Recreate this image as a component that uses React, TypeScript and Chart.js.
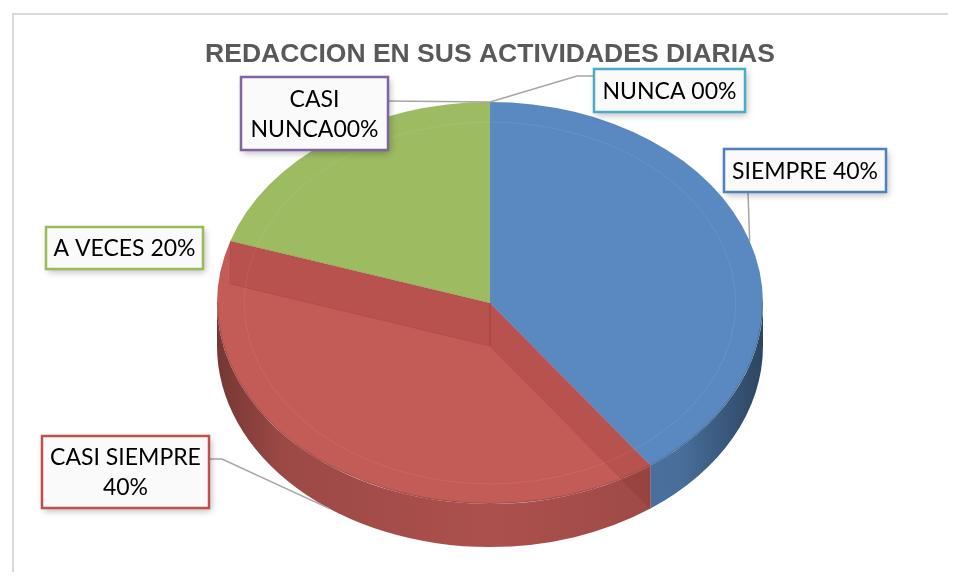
import React, { useEffect, useRef } from "react";
import { Chart, registerables } from "chart.js";

Chart.register(...registerables);

// ---------- data ----------
const chartTitle = "REDACCION EN SUS ACTIVIDADES DIARIAS";
const categories = ["SIEMPRE", "CASI SIEMPRE", "A VECES", "CASI NUNCA", "NUNCA"];
const percentValues = [40, 40, 20, 0, 0];
const labelLines = [
  ["SIEMPRE 40%"],
  ["CASI SIEMPRE", "40%"],
  ["A VECES 20%"],
  ["CASI", "NUNCA00%"],
  ["NUNCA 00%"],
];

// ---------- style ----------
const sliceColors = ["#5A89C1", "#C35B57", "#9DBB61", "#8064A2", "#4BACC6"];
const boxBorderColors = ["#4F81BD", "#C0504D", "#9BBB59", "#8064A2", "#4BACC6"];
const Y_SCALE = 201 / 273;
const DEPTH = 43;
// box placement relative to the pie centre (layout only)
const boxLayout = [
  { dx: 234, dy: -154, w: 162, h: 43, attach: "bottom", ax: 24, ay: 0, elbow: 0 },
  { dx: -448, dy: 133, w: 167, h: 72, attach: "right", ax: 0, ay: 23, elbow: 13 },
  { dx: -444, dy: -76, w: 157, h: 42, attach: "none", ax: 0, ay: 0, elbow: 0 },
  { dx: -249, dy: -226, w: 147, h: 73, attach: "right", ax: 0, ay: 24, elbow: 0 },
  { dx: 104, dy: -234, w: 151, h: 43, attach: "left", ax: 0, ay: 7, elbow: 17 },
];

function rgbOf(hex: string) {
  const n = parseInt(hex.slice(1), 16);
  return [(n >> 16) & 255, (n >> 8) & 255, n & 255];
}
function shade(hex: string, f: number, a = 1) {
  const [r, g, b] = rgbOf(hex);
  return `rgba(${Math.round(r * f)},${Math.round(g * f)},${Math.round(b * f)},${a})`;
}

const pie3d = {
  id: "pie3d",
  _saved: false,
  beforeDraw(chart: any) {
    const ctx = chart.ctx;
    ctx.save();
    ctx.strokeStyle = "#D9D9D9";
    ctx.lineWidth = 2;
    ctx.beginPath();
    ctx.moveTo(5, chart.height + 10);
    ctx.lineTo(5, 6);
    ctx.lineTo(chart.width + 10, 6);
    ctx.stroke();
    ctx.restore();
  },
  beforeDatasetsDraw(chart: any) {
    const ctx = chart.ctx;
    const els = chart.getDatasetMeta(0).data as any[];
    if (!els.length) return;
    const cx = els[0].x, cy = els[0].y, r = els[0].outerRadius;
    const ry = r * Y_SCALE, d = DEPTH;
    ctx.save();
    els.forEach((el: any, i: number) => {
      const lo = Math.max(el.startAngle, 0);
      const hi = Math.min(el.endAngle, Math.PI);
      if (hi <= lo) return;
      const base = sliceColors[i];
      const g = ctx.createLinearGradient(cx - r, 0, cx + r, 0);
      g.addColorStop(0, shade(base, 0.6));
      g.addColorStop(0.12, shade(base, 0.8));
      g.addColorStop(0.5, shade(base, 0.88));
      g.addColorStop(0.85, shade(base, 0.8));
      g.addColorStop(1, shade(base, 0.5));
      ctx.beginPath();
      ctx.ellipse(cx, cy, r, ry, 0, lo, hi);
      ctx.lineTo(cx + r * Math.cos(hi), cy + ry * Math.sin(hi) + d);
      ctx.ellipse(cx, cy + d, r, ry, 0, hi, lo, true);
      ctx.closePath();
      ctx.fillStyle = g;
      ctx.fill();
    });
    ctx.restore();
    ctx.save();
    ctx.translate(cx, cy);
    ctx.scale(1, Y_SCALE);
    ctx.translate(-cx, -cy);
    (pie3d as any)._saved = true;
  },
  afterDatasetsDraw(chart: any) {
    const ctx = chart.ctx;
    if ((pie3d as any)._saved) {
      ctx.restore();
      (pie3d as any)._saved = false;
    }
    const els = chart.getDatasetMeta(0).data as any[];
    if (!els.length) return;
    const cx = els[0].x, cy = els[0].y, r = els[0].outerRadius;
    const ry = r * Y_SCALE, d = DEPTH;
    ctx.save();
    // faint bevel ring on the top face
    ctx.strokeStyle = "rgba(255,255,255,0.08)";
    ctx.lineWidth = 1;
    ctx.beginPath();
    ctx.ellipse(cx, cy, r * 0.9, ry * 0.9, 0, 0, Math.PI * 2);
    ctx.stroke();
    // edge between top face and front side
    ctx.strokeStyle = "rgba(40,20,20,0.22)";
    ctx.beginPath();
    ctx.ellipse(cx, cy, r - 0.5, ry - 0.5, 0, 0, Math.PI);
    ctx.stroke();
    // inner cut walls seen through the translucent red slice
    const el = els[1];
    [el.startAngle, el.endAngle].forEach((a: number) => {
      const ex = cx + r * Math.cos(a), ey = cy + ry * Math.sin(a);
      ctx.beginPath();
      ctx.moveTo(cx, cy);
      ctx.lineTo(ex, ey);
      ctx.lineTo(ex, ey + d);
      ctx.lineTo(cx, cy + d);
      ctx.closePath();
      ctx.fillStyle = "rgba(110,25,25,0.14)";
      ctx.fill();
      ctx.strokeStyle = "rgba(110,25,25,0.12)";
      ctx.lineWidth = 1;
      ctx.stroke();
    });
    ctx.restore();
  },
  afterDraw(chart: any) {
    const ctx = chart.ctx;
    const els = chart.getDatasetMeta(0).data as any[];
    if (!els.length) return;
    const cx = els[0].x, cy = els[0].y, r = els[0].outerRadius;
    const ry = r * Y_SCALE, d = DEPTH;
    ctx.save();
    // title
    ctx.font = "bold 26.5px 'Liberation Sans'";
    ctx.fillStyle = "#595959";
    ctx.textAlign = "center";
    ctx.textBaseline = "alphabetic";
    ctx.fillText(chartTitle, cx, chart.chartArea.top + 32);

    // leader lines
    ctx.strokeStyle = "#A6A6A6";
    ctx.lineWidth = 1.5;
    els.forEach((el: any, i: number) => {
      const L = boxLayout[i];
      if (L.attach === "none") return;
      const m = (el.startAngle + el.endAngle) / 2;
      const s = Math.sin(m);
      const px = cx + r * Math.cos(m);
      const py = cy + ry * s + (s > 0.05 ? d : 0);
      const bx = cx + L.dx, by = cy + L.dy;
      let sx = bx, sy = by, ex = bx, ey = by;
      if (L.attach === "bottom") { sx = bx + L.ax; sy = by + L.h; ex = sx; ey = sy; }
      if (L.attach === "right") { sx = bx + L.w; sy = by + L.ay; ex = sx + L.elbow; ey = sy; }
      if (L.attach === "left") { sx = bx; sy = by + L.ay; ex = sx - L.elbow; ey = sy; }
      ctx.beginPath();
      ctx.moveTo(sx, sy);
      ctx.lineTo(ex, ey);
      ctx.lineTo(px, py);
      ctx.stroke();
    });

    // label boxes
    ctx.font = "23px Lato";
    ctx.textBaseline = "middle";
    els.forEach((_el: any, i: number) => {
      const L = boxLayout[i];
      const bx = cx + L.dx, by = cy + L.dy;
      ctx.save();
      ctx.shadowColor = "rgba(0,0,0,0.28)";
      ctx.shadowBlur = 7;
      ctx.shadowOffsetX = 2;
      ctx.shadowOffsetY = 3;
      ctx.fillStyle = "#FAFAFA";
      ctx.fillRect(bx, by, L.w, L.h);
      ctx.restore();
      ctx.strokeStyle = boxBorderColors[i];
      ctx.lineWidth = 2.5;
      ctx.strokeRect(bx, by, L.w, L.h);
      ctx.fillStyle = "#000000";
      const lines = labelLines[i];
      const lh = 30;
      const y0 = by + L.h / 2 - ((lines.length - 1) * lh) / 2;
      lines.forEach((t, k) => ctx.fillText(t, bx + L.w / 2, y0 + k * lh + 1));
    });
    ctx.restore();
  },
};

export default function App() {
  const ref = useRef<HTMLCanvasElement>(null);
  useEffect(() => {
    const chart = new Chart(ref.current!, {
      type: "pie",
      data: {
        labels: categories,
        datasets: [
          {
            data: percentValues,
            backgroundColor: sliceColors,
            borderWidth: 0,
          },
        ],
      },
      options: {
        animation: false,
        responsive: true,
        maintainAspectRatio: false,
        layout: { padding: { left: 209, right: 185, top: 22, bottom: 32 } },
        plugins: {
          legend: { display: false },
          tooltip: { enabled: false },
          title: { display: false },
        },
      },
      plugins: [pie3d as any],
    });
    return () => chart.destroy();
  }, []);
  return (
    <div style={{ width: 940, height: 564, overflow: "hidden" }}>
      <div style={{ position: "relative", width: 940, height: 600 }}>
        <canvas ref={ref} />
      </div>
    </div>
  );
}
